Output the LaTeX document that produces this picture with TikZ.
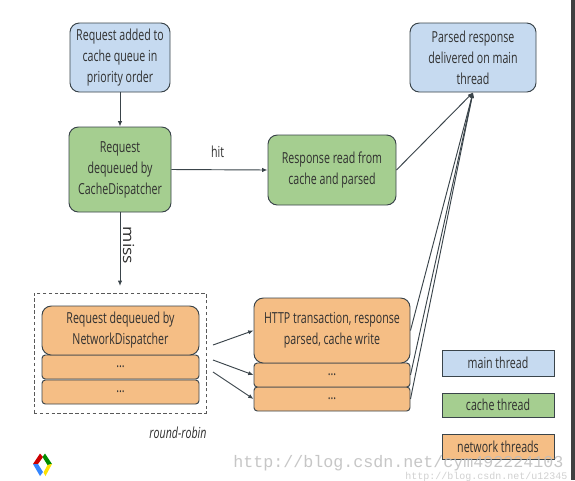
\documentclass[tikz,border=0pt]{standalone}
\usepackage{fontspec}
\usetikzlibrary{arrows.meta}
\setmainfont[FakeStretch=0.70]{Open Sans}
\newfontfamily\widefont[FakeStretch=1.15]{Open Sans}
\newfontfamily\wmfont{Liberation Mono}
\definecolor{bluefill}{HTML}{C6DAF0}
\definecolor{greenfill}{HTML}{A5CE90}
\definecolor{orangefill}{HTML}{F5BE85}
\definecolor{edgecol}{HTML}{3A444A}
\definecolor{textcol}{HTML}{303030}
\tikzset{
  sz/.style 2 args={minimum width=#1*0.75pt,minimum height=#2*0.75pt},
  boxbase/.style={draw=edgecol,line width=0.7pt,inner sep=0pt,align=center,text=textcol,
    font=\fontsize{11.4}{15.75}\selectfont},
  bigbox/.style={boxbase,rounded corners=7pt},
  smallbox/.style={boxbase,rounded corners=2.5pt,fill=orangefill},
  legendbox/.style={boxbase,line width=0.7pt},
  link/.style={draw=edgecol,line width=0.7pt,-{Latex[length=4pt,width=3.2pt]}},
  plainlabel/.style={inner sep=0pt,text=textcol,font=\fontsize{11.4}{15.75}\selectfont},
}
\begin{document}
\begin{tikzpicture}[x=0.75pt,y=-0.75pt]
\useasboundingbox (0,0) rectangle (575,480);
\fill[white] (0,0) rectangle (575,480);
\clip (0,0) rectangle (575,480);
\fill[black!75] (570.5,0) rectangle (575,480);

\node[bigbox,fill=bluefill,sz={100}{69}] (added) at (120,57.5) {Request added to\\cache queue in\\priority order};
\node[bigbox,fill=greenfill,sz={102}{85}] (dequeued) at (120,169.5) {Request\\dequeued by\\CacheDispatcher};
\node[bigbox,fill=greenfill,sz={128}{70}] (read) at (332,170) {Response read from\\cache and parsed};
\node[bigbox,fill=bluefill,sz={126}{69}] (parsed) at (473,57.5) {Parsed response\\delivered on main\\thread};

\node[draw=black!65,line width=0.6pt,dash pattern=on 2.6pt off 1.8pt,sz={172}{120}] (pool) at (120,353) {};
\node[smallbox,sz={157}{24}] (ndb) at (120.5,392) {\raisebox{1pt}{...}};
\node[smallbox,sz={157}{24}] (nda) at (120.5,367) {\raisebox{1pt}{...}};
\node[bigbox,fill=orangefill,sz={157}{49}] (nd) at (120.5,330.5) {Request dequeued by\\NetworkDispatcher};

\node[smallbox,sz={156}{24}] (httpb) at (332,399) {\raisebox{1pt}{...}};
\node[smallbox,sz={156}{24}] (httpa) at (332,375) {\raisebox{1pt}{...}};
\node[bigbox,fill=orangefill,sz={156}{65}] (http) at (332,330.5) {HTTP transaction, response\\parsed, cache write};

\node[legendbox,fill=bluefill,sz={112}{26}] (lmain) at (498,363) {main thread};
\node[legendbox,fill=greenfill,sz={112}{24}] (lcache) at (498,405) {cache thread};
\node[legendbox,fill=orangefill,sz={112}{25}] (lnet) at (498,446.5) {network threads};

\node[plainlabel,font=\fontsize{11.4}{15.75}\selectfont\itshape] (rr) at (178,433) {round-robin};

\coordinate (missend) at (120,286);
\coordinate (s1) at (213,345);
\coordinate (s2) at (213,360);
\coordinate (s3) at (213,372);
\draw[link] (added.south) -- (dequeued.north);
\draw[link] (dequeued.east) -- node[plainlabel,pos=0.48,yshift=13.5pt] (hit) {hit} (read.west);
\draw[link] (dequeued.south) -- node[plainlabel,rotate=-90,yshift=6.5pt,pos=0.45,anchor=center,font=\widefont\fontsize{11.4}{15.75}\selectfont] (miss) {miss} (missend);
\draw[link] (s1) -- (http.west);
\draw[link] (s2) -- (httpa.west);
\draw[link] (s3) -- (httpb.west);
\draw[link] (read.east) -- (parsed.south);
\draw[link] (http.east) -- (parsed.south);
\draw[link] (httpa.east) -- (parsed.south);
\draw[link] (httpb.east) -- (parsed.south);

% logo
\fill[red!80!black] (40,453.5) -- (43,457) -- (38,464) -- (33,464) -- cycle;
\fill[blue!60!cyan!80!white] (33,464) -- (38,464) -- (43,472) -- (40,476) -- cycle;
\fill[green!55!black] (45,453.5) -- (52,464) -- (47.5,465) -- (42.5,457) -- cycle;
\fill[yellow!85!orange] (52,464) -- (47.5,465) -- (43.5,472.5) -- (45.5,476) -- cycle;

% watermark
\node[inner sep=0pt,anchor=base west,text=black!26,opacity=0.85,font=\wmfont\fontsize{12.5}{14}\selectfont] (wm) at (233,467) {http://blog.csdn.net/cym492224103};
\node[inner sep=0pt,anchor=base west,text=black!18,font=\wmfont\fontsize{7.5}{9}\selectfont] (wmb) at (405,479) {http://blog.csdn.net/u12345};
\end{tikzpicture}
\end{document}
